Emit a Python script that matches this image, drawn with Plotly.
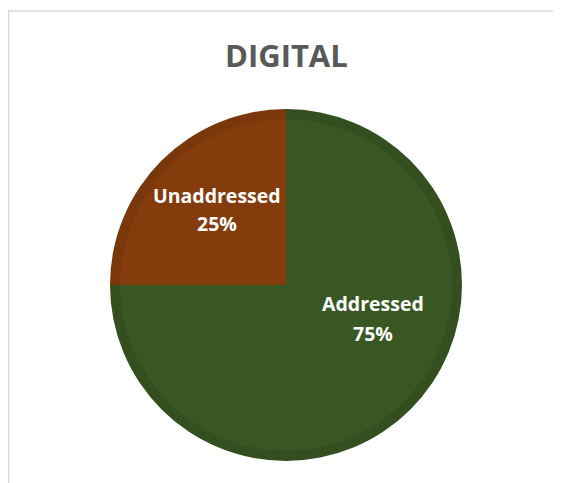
import plotly.graph_objects as go

# Data
categories = ["Addressed", "Unaddressed"]
values = [75, 25]
title_text = "DIGITAL"

# Styles
fill_colors = ["#385723", "#843C0C"]
edge_colors = ["#334F1F", "#7A370B"]

OFF = 8  # page body margin offset
W, H = 561 - OFF, 483 - OFF
cx, cy, r_out, r_in = 286 - OFF, 285 - OFF, 176, 166


def dom(r):
    return dict(x=[(cx - r) / W, (cx + r) / W],
                y=[1 - (cy + r) / H, 1 - (cy - r) / H])


fig = go.Figure()
fig.add_trace(go.Pie(labels=categories, values=values, sort=False,
                     direction="clockwise", rotation=0,
                     marker=dict(colors=edge_colors, line=dict(width=0)),
                     textinfo="none", hoverinfo="skip", showlegend=False,
                     domain=dom(r_out)))
fig.add_trace(go.Pie(labels=categories, values=values, sort=False,
                     direction="clockwise", rotation=0,
                     marker=dict(colors=fill_colors, line=dict(width=0)),
                     textinfo="none", showlegend=False,
                     domain=dom(r_in)))

# label positions (pixel layout positions for the data labels)
label_pos = {"Addressed": (373, 303, 333), "Unaddressed": (217, 195, 224)}
total = sum(values)
anns = []
for cat, v in zip(categories, values):
    x, y1, y2 = label_pos[cat]
    pct = f"{round(100 * v / total)}%"
    for txt, yy in ((cat, y1), (pct, y2)):
        anns.append(dict(text=f"<b>{txt}</b>", x=(x - OFF) / W, y=1 - (yy - OFF) / H,
                         xref="paper", yref="paper", showarrow=False,
                         xanchor="center", yanchor="middle",
                         font=dict(family="Open Sans", size=19.5, color="white")))
anns.append(dict(text=f"<b>{title_text}</b>", x=(286 - OFF) / W, y=1 - (55 - OFF) / H,
                 xref="paper", yref="paper", showarrow=False,
                 xanchor="center", yanchor="middle",
                 font=dict(family="Open Sans", size=31, color="#595959")))

shapes = [
    dict(type="line", xref="paper", yref="paper", x0=0, x1=1.01,
         y0=1 - 3 / H, y1=1 - 3 / H, line=dict(color="#D9D9D9", width=1.5)),
    dict(type="line", xref="paper", yref="paper", x0=0.5 / W, x1=0.5 / W,
         y0=-0.01, y1=1 - 3 / H, line=dict(color="#D9D9D9", width=1.5)),
]

fig.update_layout(width=W, height=H, margin=dict(l=0, r=0, t=0, b=0),
                  paper_bgcolor="white", plot_bgcolor="white",
                  annotations=anns, shapes=shapes)

fig.write_html("out.html")
